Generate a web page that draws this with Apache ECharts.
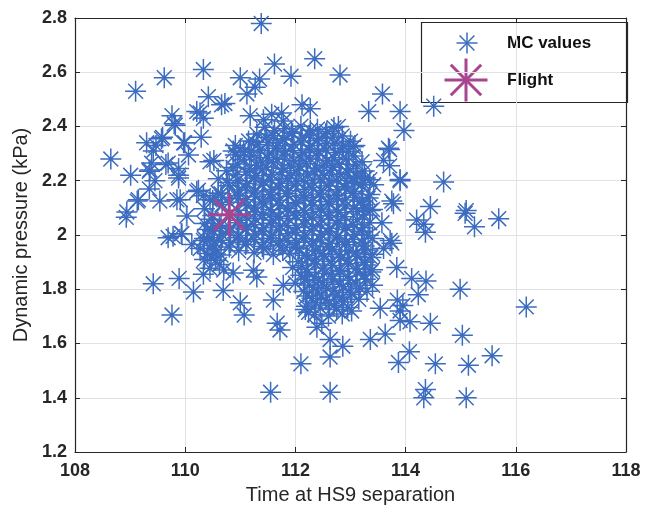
<!DOCTYPE html>
<html>
<head>
<meta charset="utf-8">
<script src="https://cdn.jsdelivr.net/npm/echarts@6/dist/echarts.min.js"></script>
<style>
  html, body { margin: 0; padding: 0; background: #ffffff; }
  #chart { width: 653px; height: 512px; }
</style>
</head>
<body>
<div id="chart"></div>
<script>
// Monte Carlo dispersion results: [time at HS9 separation (s), dynamic pressure (kPa)]
const mcScattered = [
  [111.38,2.78],[109.10,2.53],[109.62,2.58],[110.33,2.61],[110.42,2.51],[109.76,2.44],[109.80,2.41],
  [110.21,2.455],[110.33,2.43],[110.66,2.48],[108.65,2.28],[109.01,2.22],[109.30,2.34],[109.47,2.33],
  [109.59,2.36],[109.99,2.34],[110.06,2.295],[110.29,2.36],[110.52,2.275],[109.39,2.265],[109.35,2.235],
  [109.65,2.26],[109.88,2.245],[109.45,2.20],[109.88,2.21],[109.35,2.17],[109.13,2.125],[109.54,2.125],
  [109.85,2.13],[108.94,2.085],[110.21,2.16],[110.33,2.145],[110.45,2.13],[110.60,2.155],
  [111.62,2.63],[112.35,2.65],[111.92,2.585],[112.81,2.59],[111.00,2.58],[111.35,2.575],[111.27,2.545],
  [111.12,2.52],[110.72,2.485],[112.12,2.48],[112.27,2.465],[111.18,2.44],[111.42,2.425],[111.57,2.445],
  [111.75,2.45],[111.78,2.42],[112.78,2.40],[110.91,2.33],[110.91,2.295],[111.06,2.305],[111.24,2.345],
  [113.58,2.52],[113.33,2.455],[113.90,2.455],[113.97,2.385],[114.51,2.475],[113.08,2.33],[113.71,2.315],
  [113.21,2.27],[113.60,2.275],[113.71,2.255],[113.90,2.205],[114.69,2.195],[113.08,2.195],[113.27,2.21],
  [113.42,2.185],[113.75,2.125],[113.78,2.115],[114.45,2.105],[115.10,2.09],[113.24,2.10],[113.36,2.09],
  [108.93,2.065],[110.03,2.07],[109.69,1.99],[109.94,2.005],[110.12,1.965],[109.42,1.82],[109.89,1.84],
  [110.33,1.855],[110.15,1.79],[110.69,1.795],[109.76,1.705],
  [110.27,1.95],[110.40,2.02],[110.55,1.93],[110.45,1.99],[110.62,2.03],[110.35,1.91],
  [111.00,1.75],[111.07,1.705],[111.60,1.76],[111.78,1.815],[111.67,1.675],[111.72,1.65],[112.10,1.525],
  [111.55,1.42],[112.63,1.42],[112.63,1.55],[112.63,1.615],[112.86,1.59],[112.21,1.775],[112.18,1.725],
  [112.24,1.715],[112.39,1.66],[112.48,1.675],[112.75,1.725],[110.87,1.86],[111.24,1.87],[111.30,1.845],
  [114.20,2.055],[114.36,2.01],[115.08,2.08],[115.25,2.03],[114.99,1.80],[114.11,1.84],[114.37,1.83],
  [114.23,1.78],[113.84,1.88],[113.75,1.97],[113.60,1.95],[113.85,1.76],[113.95,1.74],[113.90,1.72],
  [113.54,1.73],[114.45,1.675],[113.90,1.685],[114.08,1.68],[113.63,1.635],[113.36,1.615],[115.03,1.63],
  [114.07,1.57],[113.87,1.53],[114.54,1.525],[115.14,1.52],[114.36,1.43],[114.33,1.40],[115.10,1.40],
  [115.57,1.555],[116.19,1.735],[115.69,2.06],[113.02,1.72],
  [110.27,2.45],[109.82,2.405],[109.57,2.355],[109.97,2.34],[109.42,2.31],[109.36,2.24],[109.69,2.265],
  [109.88,2.22],[110.45,2.27],[110.87,2.31],[109.15,2.13],[109.91,2.13],[110.24,2.165],[109.78,1.995],
  [109.93,2.005],[110.33,1.98],[113.05,2.325],[113.69,2.32],[113.90,2.20],[114.33,2.04],[113.57,2.045],
  [113.72,1.98]
];

// Dense central cloud of the dispersion
const mcCore = [
  [111.45,2.397],[111.80,2.392],[112.10,2.401],[112.40,2.390],[112.70,2.396],
  [111.30,2.372],[111.60,2.366],[111.95,2.375],[112.25,2.368],[112.55,2.373],[112.85,2.365],
  [111.15,2.347],[111.50,2.341],[111.80,2.350],[112.10,2.343],[112.40,2.348],[112.70,2.339],[113.00,2.346],
  [111.00,2.318],[111.35,2.312],[111.65,2.320],[111.95,2.311],[112.25,2.317],[112.55,2.313],[112.85,2.319],
  [111.20,2.292],[111.50,2.286],[111.80,2.295],[112.10,2.288],[112.40,2.293],[112.70,2.285],[113.05,2.291],
  [110.95,2.262],[111.30,2.257],[111.60,2.265],[111.90,2.258],[112.20,2.263],[112.50,2.255],[112.80,2.261],[113.10,2.258],
  [110.75,2.237],[111.10,2.232],[111.40,2.240],[111.75,2.231],[112.05,2.238],[112.35,2.233],[112.65,2.239],[112.95,2.230],[113.25,2.236],
  [110.60,2.207],[110.95,2.201],[111.25,2.210],[111.55,2.203],[111.85,2.208],[112.15,2.200],[112.45,2.206],[112.75,2.202],[113.05,2.209],[113.35,2.204],
  [110.80,2.182],[111.10,2.176],[111.40,2.184],[111.70,2.177],[112.00,2.183],[112.30,2.175],[112.60,2.181],[112.90,2.178],[113.20,2.185],
  [110.65,2.152],[110.95,2.146],[111.25,2.155],[111.55,2.148],[111.85,2.153],[112.15,2.145],[112.45,2.151],[112.75,2.147],[113.05,2.154],[113.35,2.149],
  [110.50,2.127],[110.80,2.121],[111.10,2.130],[111.40,2.122],[111.70,2.128],[112.00,2.120],[112.30,2.126],[112.60,2.123],[112.90,2.129],[113.20,2.124],
  [110.35,2.097],[110.95,2.091],[111.25,2.100],[111.55,2.093],[111.85,2.098],[112.15,2.090],[112.45,2.096],[112.75,2.092],[113.05,2.099],[113.40,2.094],
  [110.50,2.072],[111.10,2.066],[111.40,2.075],[111.70,2.068],[112.00,2.073],[112.30,2.065],[112.60,2.071],[112.90,2.067],[113.25,2.074],
  [110.35,2.042],[110.65,2.036],[110.95,2.045],[111.25,2.038],[111.55,2.043],[111.85,2.035],[112.15,2.041],[112.45,2.037],[112.75,2.044],[113.05,2.039],[113.35,2.045],
  [110.50,2.017],[110.80,2.011],[111.10,2.020],[111.40,2.013],[111.70,2.018],[112.00,2.010],[112.30,2.016],[112.60,2.012],[112.90,2.019],[113.20,2.014],
  [110.35,1.987],[110.65,1.981],[110.95,1.990],[111.25,1.983],[111.55,1.988],[111.85,1.980],[112.15,1.986],[112.45,1.982],[112.75,1.989],[113.05,1.984],[113.40,1.987],
  [110.50,1.962],[110.80,1.956],[111.10,1.965],[111.40,1.958],[111.70,1.963],[112.00,1.955],[112.30,1.961],[112.60,1.957],[112.90,1.964],[113.25,1.959],
  [110.40,1.932],[110.65,1.926],[111.25,1.935],[111.60,1.928],[111.90,1.933],[112.20,1.925],[112.50,1.931],[112.80,1.927],[113.10,1.934],[113.40,1.929],
  [110.55,1.907],[112.05,1.901],[112.35,1.909],[112.65,1.902],[112.95,1.908],[113.25,1.900],
  [110.45,1.877],[110.70,1.871],[111.95,1.880],[112.20,1.873],[112.50,1.878],[112.80,1.870],[113.10,1.876],[113.40,1.872],
  [112.10,1.852],[112.35,1.846],[112.65,1.855],[112.95,1.848],[113.25,1.853],
  [112.00,1.822],[112.25,1.816],[112.50,1.825],[112.80,1.818],[113.10,1.823],[113.40,1.815],
  [112.15,1.792],[112.40,1.786],[112.70,1.795],[113.00,1.788],[113.30,1.793],
  [112.30,1.767],[112.55,1.761],[112.85,1.770],[113.15,1.763],
  [112.20,1.737],[112.45,1.731],[112.70,1.740],[112.95,1.733],
  [112.35,1.707],[112.60,1.701],[112.85,1.709]
];

// Further runs filling the gaps of the central cloud
const mcCoreFill = [
  [111.62,2.384],[111.93,2.380],[112.27,2.386],[112.57,2.381],
  [111.47,2.359],[111.77,2.355],[112.12,2.361],[112.42,2.356],[112.68,2.360],
  [111.32,2.333],[111.67,2.329],[111.97,2.335],[112.27,2.330],[112.57,2.336],[112.87,2.331],
  [111.17,2.306],[111.52,2.302],[111.82,2.308],[112.12,2.303],[112.42,2.309],[112.72,2.304],[112.97,2.307],
  [111.07,2.277],[111.37,2.273],[111.67,2.279],[111.97,2.274],[112.27,2.280],[112.57,2.275],[112.92,2.278],
  [110.87,2.249],[111.17,2.245],[111.47,2.251],[111.77,2.246],[112.07,2.252],[112.37,2.247],[112.67,2.250],[112.97,2.244],
  [110.92,2.222],[111.27,2.218],[111.57,2.224],[111.92,2.219],[112.22,2.225],[112.52,2.220],[112.82,2.223],[113.12,2.217],
  [110.77,2.194],[111.12,2.190],[111.42,2.196],[111.72,2.191],[112.02,2.197],[112.32,2.192],[112.62,2.195],[112.92,2.189],[113.22,2.193],
  [110.97,2.166],[111.27,2.162],[111.57,2.168],[111.87,2.163],[112.17,2.169],[112.47,2.164],[112.77,2.167],[113.07,2.161],
  [110.67,2.139],[110.97,2.135],[111.27,2.141],[111.57,2.136],[111.87,2.142],[112.17,2.137],[112.47,2.140],[112.77,2.134],[113.07,2.138],[113.32,2.136],
  [110.67,2.112],[111.12,2.108],[111.42,2.114],[111.72,2.109],[112.02,2.115],[112.32,2.110],[112.62,2.113],[112.92,2.107],[113.22,2.111],
  [111.27,2.085],[111.57,2.081],[111.87,2.087],[112.17,2.082],[112.47,2.088],[112.77,2.083],[113.12,2.086],
  [110.47,2.058],[110.97,2.054],[111.27,2.060],[111.57,2.055],[111.87,2.061],[112.17,2.056],[112.47,2.059],[112.77,2.053],[113.12,2.057],
  [110.52,2.030],[110.82,2.026],[111.12,2.032],[111.42,2.027],[111.72,2.033],[112.02,2.028],[112.32,2.031],[112.62,2.025],[112.92,2.029],[113.22,2.027],
  [110.67,2.002],[110.97,1.998],[111.27,2.004],[111.57,1.999],[111.87,2.005],[112.17,2.000],[112.47,2.003],[112.77,1.997],[113.07,2.001],[113.32,1.999],
  [110.52,1.975],[110.82,1.971],[111.12,1.977],[111.42,1.972],[111.72,1.978],[112.02,1.973],[112.32,1.976],[112.62,1.970],[112.92,1.974],[113.22,1.972],
  [110.57,1.946],[110.97,1.942],[111.42,1.948],[111.77,1.943],[112.07,1.949],[112.37,1.944],[112.67,1.947],[112.97,1.941],[113.27,1.945],
  [110.47,1.919],[112.22,1.915],[112.52,1.921],[112.82,1.916],[113.12,1.922],[113.37,1.917],
  [110.62,1.891],[112.12,1.887],[112.37,1.893],[112.67,1.888],[112.97,1.894],[113.27,1.889],
  [112.22,1.863],[112.52,1.859],[112.82,1.865],[113.12,1.860],[113.37,1.864],
  [112.17,1.836],[112.42,1.832],[112.67,1.838],[112.97,1.833],[113.27,1.837],
  [112.32,1.807],[112.57,1.803],[112.87,1.809],[113.17,1.804],
  [112.47,1.779],[112.72,1.775],[113.02,1.781],
  [112.37,1.751],[112.62,1.747],[112.87,1.753]
];

const flightPoint = [[110.80, 2.075]];

const xMin = 108, xMax = 118, xStep = 2;
const yMin = 1.2, yMax = 2.8, yStep = 0.2;

const mcColor = '#3b6cc0';
const flightColor = '#a8458f';
const inkColor = '#262626';

// eight-armed asterisk marker: plus sign overlaid with a shorter cross
const starPath = 'path://M0,-10L0,10M-10,0L10,0M-7.07,-7.07L7.07,7.07M-7.07,7.07L7.07,-7.07';

// legend swatch built from four line segments
function starSwatch(cx, cy, r, color, width) {
  const d = r * 0.7071;
  const segs = [
    [cx, cy - r, cx, cy + r],
    [cx - r, cy, cx + r, cy],
    [cx - d, cy - d, cx + d, cy + d],
    [cx - d, cy + d, cx + d, cy - d]
  ];
  return segs.map(s => ({
    type: 'line',
    shape: { x1: s[0], y1: s[1], x2: s[2], y2: s[3] },
    style: { stroke: color, lineWidth: width }
  }));
}

const chart = echarts.init(document.getElementById('chart'), null, { renderer: 'canvas' });

const fontFamily = '"Liberation Sans", Arial, sans-serif';
const tickLabelStyle = { color: inkColor, fontSize: 18, fontWeight: 'bold', fontFamily: fontFamily };
const nameStyle = { color: inkColor, fontSize: 20, fontFamily: fontFamily };
const frameLine = { show: true, onZero: false, lineStyle: { color: inkColor, width: 1.2 } };
const innerTick = { show: true, inside: true, length: 5, lineStyle: { color: inkColor } };

chart.setOption({
  animation: false,
  backgroundColor: '#ffffff',
  grid: { left: 75, top: 18, right: 27, bottom: 60, containLabel: false },
  xAxis: [
    {
      type: 'value', min: xMin, max: xMax, interval: xStep, position: 'bottom',
      axisLine: frameLine, axisTick: innerTick,
      axisLabel: Object.assign({ margin: 10 }, tickLabelStyle),
      splitLine: { show: true, lineStyle: { color: '#e2e2e2', width: 1 } },
      name: 'Time at HS9 separation', nameLocation: 'middle', nameGap: 33, nameTextStyle: nameStyle
    },
    {
      type: 'value', min: xMin, max: xMax, interval: xStep, position: 'top',
      axisLine: frameLine, axisTick: innerTick,
      axisLabel: { show: false }, splitLine: { show: false }
    }
  ],
  yAxis: [
    {
      type: 'value', min: yMin, max: yMax, interval: yStep, position: 'left',
      axisLine: frameLine, axisTick: innerTick,
      axisLabel: Object.assign({ margin: 8 }, tickLabelStyle),
      splitLine: { show: true, lineStyle: { color: '#e2e2e2', width: 1 } },
      name: 'Dynamic pressure (kPa)', nameLocation: 'middle', nameGap: 43, nameTextStyle: nameStyle
    },
    {
      type: 'value', min: yMin, max: yMax, interval: yStep, position: 'right',
      axisLine: frameLine, axisTick: innerTick,
      axisLabel: { show: false }, splitLine: { show: false }
    }
  ],
  series: [
    {
      name: 'MC values', type: 'scatter', xAxisIndex: 0, yAxisIndex: 0,
      data: mcScattered.concat(mcCore, mcCoreFill),
      symbol: starPath, symbolSize: 21,
      itemStyle: { color: 'rgba(0,0,0,0)', borderColor: mcColor, borderWidth: 1.5, opacity: 1 },
      emphasis: { disabled: true }, z: 2
    },
    {
      name: 'Flight', type: 'scatter', xAxisIndex: 0, yAxisIndex: 0,
      data: flightPoint,
      symbol: starPath, symbolSize: 43,
      itemStyle: { color: 'rgba(0,0,0,0)', borderColor: flightColor, borderWidth: 3, opacity: 1 },
      emphasis: { disabled: true }, z: 3
    }
  ],
  graphic: [
    {
      type: 'group', z: 100,
      children: [
        { type: 'rect', shape: { x: 421.5, y: 22.5, width: 206, height: 80 },
          style: { fill: '#ffffff', stroke: inkColor, lineWidth: 1.2 } }
      ].concat(
        starSwatch(467, 43, 10.5, mcColor, 1.5),
        starSwatch(466, 80, 21.5, flightColor, 3),
        [
          { type: 'text', x: 507, y: 43,
            style: { text: 'MC values', fill: '#111111', font: 'bold 17px ' + fontFamily, verticalAlign: 'middle' } },
          { type: 'text', x: 507, y: 80,
            style: { text: 'Flight', fill: '#111111', font: 'bold 17px ' + fontFamily, verticalAlign: 'middle' } }
        ]
      )
    }
  ]
});
</script>
</body>
</html>
